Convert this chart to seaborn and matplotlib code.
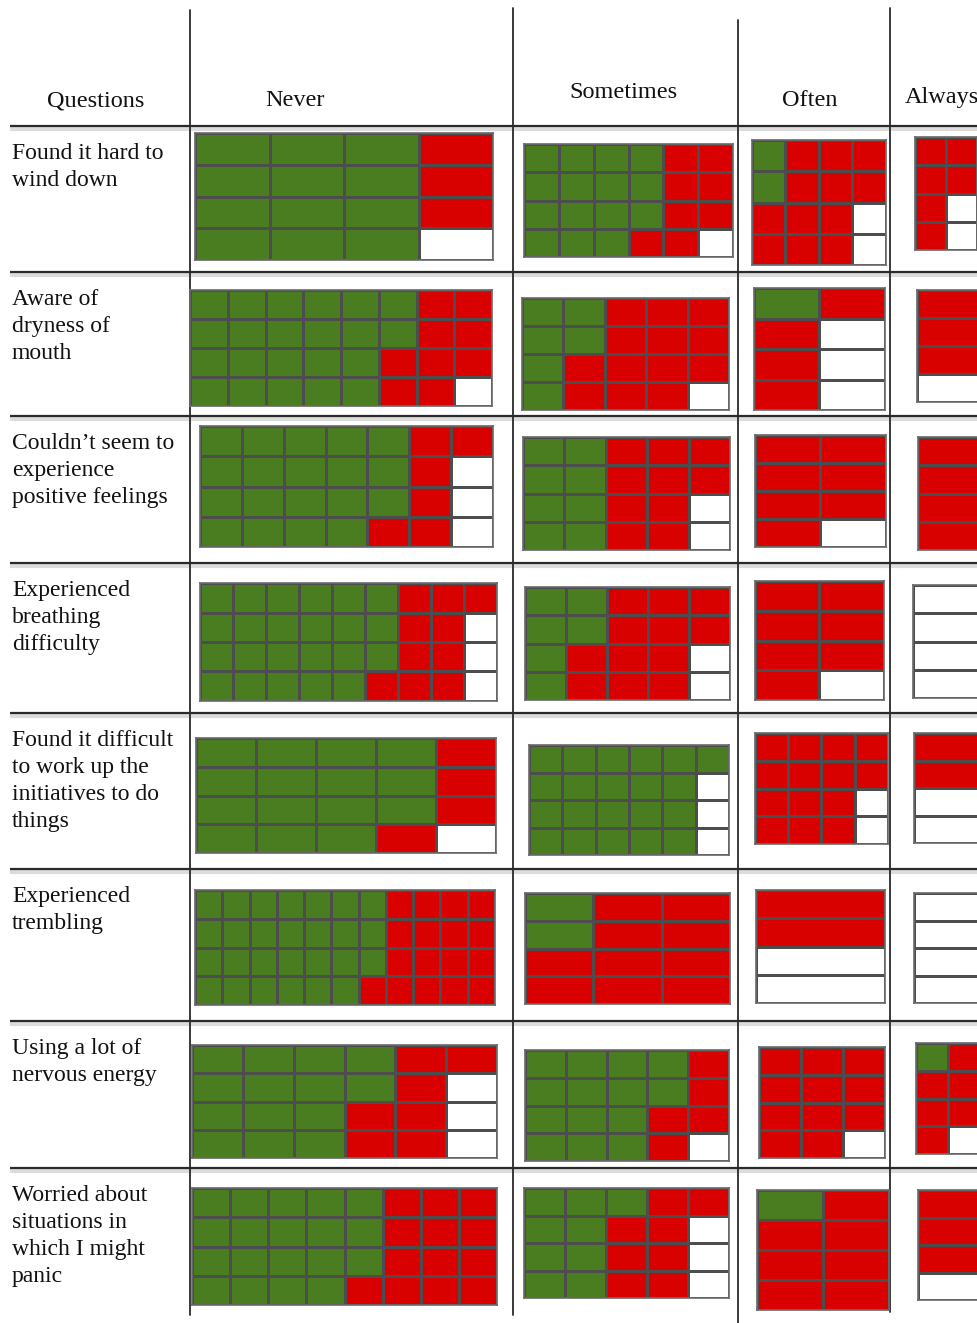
import numpy as np
import matplotlib
matplotlib.use("Agg")
import matplotlib.pyplot as plt
from matplotlib.colors import ListedColormap
import seaborn as sns

# Data: each waffle has 4 rows, filled column by column (green, then red, then white)
questions = [
    "Found it hard to\nwind down",
    "Aware of\ndryness of\nmouth",
    "Couldn\u2019t seem to\nexperience\npositive feelings",
    "Experienced\nbreathing\ndifficulty",
    "Found it difficult\nto work up the\ninitiatives to do\nthings",
    "Experienced\ntrembling",
    "Using a lot of\nnervous energy",
    "Worried about\nsituations in\nwhich I might\npanic",
]
responses = ["Never", "Sometimes", "Often", "Always"]

never_cols = [4, 8, 7, 9, 5, 11, 6, 8]
never_green = [12, 22, 19, 23, 15, 27, 14, 19]
never_red = [3, 9, 6, 10, 4, 17, 7, 13]
never_white = [1, 1, 3, 3, 1, 0, 3, 0]

sometimes_cols = [6, 5, 5, 5, 6, 3, 5, 5]
sometimes_green = [15, 6, 8, 6, 21, 2, 14, 9]
sometimes_red = [8, 13, 10, 12, 0, 10, 5, 8]
sometimes_white = [1, 1, 2, 2, 3, 0, 1, 3]

often_cols = [4, 2, 2, 2, 4, 1, 3, 2]
often_green = [2, 1, 0, 0, 0, 0, 0, 1]
often_red = [12, 4, 7, 7, 14, 2, 11, 7]
often_white = [2, 3, 1, 1, 2, 2, 1, 0]

always_cols = [2, 1, 1, 1, 1, 1, 2, 1]
always_green = [0, 0, 0, 0, 0, 0, 1, 0]
always_red = [6, 3, 4, 0, 2, 0, 6, 3]
always_white = [2, 1, 0, 4, 2, 4, 1, 1]

# Layout (pixels): waffle boxes as (x0, x1, y0, y1)
W, H = 978, 1323
never_box = [(195, 493, 133, 260), (190, 492, 290, 406), (200, 493, 426, 547), (200, 497, 583, 701),
             (196, 496, 738, 853), (195, 495, 890, 1005), (192, 497, 1045, 1158), (192, 497, 1188, 1305)]
sometimes_box = [(524, 733, 144, 257), (522, 729, 298, 410), (523, 730, 437, 550), (525, 730, 587, 700),
                 (529, 729, 745, 855), (525, 730, 893, 1004), (525, 729, 1050, 1161), (524, 729, 1188, 1298)]
often_box = [(752, 886, 140, 265), (754, 885, 288, 410), (755, 886, 435, 547), (755, 884, 581, 700),
             (755, 888, 733, 844), (756, 885, 890, 1003), (759, 885, 1047, 1158), (757, 889, 1190, 1310)]
always_box = [(915, 977, 137, 250), (917, 1000, 290, 402), (918, 1000, 437, 550), (913, 1000, 585, 698),
              (914, 1000, 733, 843), (914, 1000, 893, 1003), (916, 980, 1043, 1154), (918, 1000, 1190, 1300)]

row_lines = [126, 272, 416, 563, 713, 869, 1021, 1168]
col_lines = [(190, 10, 1315), (513, 8, 1315), (738, 20, 1323), (890, 8, 1312)]
header_pos = [(96, 101, "center"), (295, 101, "center"), (623, 92, "center"), (810, 100, "center"), (905, 97, "left")]

green, red, white = "#4a7c20", "#d90000", "#ffffff"
waffle_cmap = ListedColormap([green, red, white])

sns.set_theme(style="white")
plt.rcParams["font.family"] = ["Liberation Serif", "DejaVu Serif"]

fig = plt.figure(figsize=(W / 100, H / 100), dpi=100)
bg = fig.add_axes([0, 0, 1, 1])
bg.set_xlim(0, W)
bg.set_ylim(H, 0)
bg.axis("off")

# table lines
for y in row_lines:
    bg.plot([10, W], [y + 2.5, y + 2.5], color="#dcdcdc", lw=3, solid_capstyle="butt")
    bg.plot([10, W], [y, y], color="#2a2a2a", lw=1.6, solid_capstyle="butt")
for x, y0, y1 in col_lines:
    bg.plot([x, x], [y0, y1], color="#2a2a2a", lw=1.3)

# header
for (x, y, ha), label in zip(header_pos, ["Questions"] + responses):
    bg.text(x, y, label, ha=ha, va="center", fontsize=17.5, color="#111111")

# question labels
for i, q in enumerate(questions):
    bg.text(12, row_lines[i] + 17, q, ha="left", va="top", fontsize=17,
            linespacing=1.38, color="#111111")

data = {
    "Never": (never_cols, never_green, never_red, never_white, never_box),
    "Sometimes": (sometimes_cols, sometimes_green, sometimes_red, sometimes_white, sometimes_box),
    "Often": (often_cols, often_green, often_red, often_white, often_box),
    "Always": (always_cols, always_green, always_red, always_white, always_box),
}

for resp in responses:
    cols, gs, rs, ws, boxes = data[resp]
    for i in range(len(questions)):
        seq = [0] * gs[i] + [1] * rs[i] + [2] * ws[i]
        grid = np.array(seq).reshape(cols[i], 4).T
        x0, x1, y0, y1 = boxes[i]
        ax = fig.add_axes([x0 / W, 1 - y1 / H, (x1 - x0) / W, (y1 - y0) / H])
        sns.heatmap(grid, ax=ax, cmap=waffle_cmap, vmin=-0.5, vmax=2.5, cbar=False,
                    linewidths=1.0, linecolor="#4d4d4d", xticklabels=False, yticklabels=False)
        for sp in ax.spines.values():
            sp.set_visible(True)
            sp.set_color("#6a6a6a")
            sp.set_linewidth(1.2)

fig.savefig("out.png", dpi=100)
